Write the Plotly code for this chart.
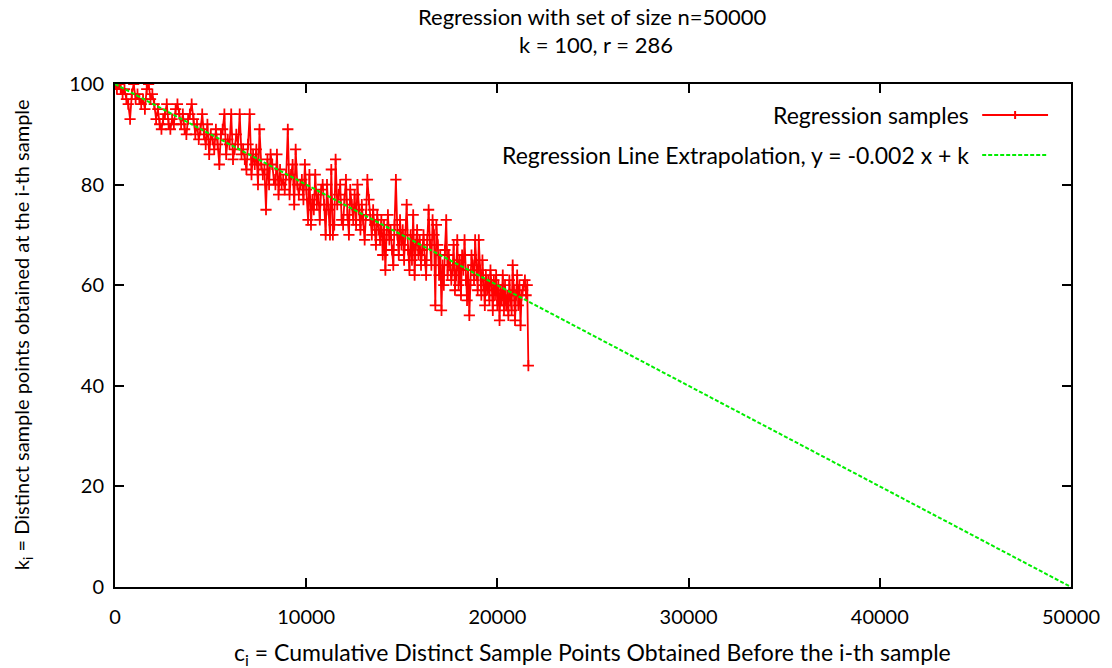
import itertools
import plotly.graph_objects as go

# k_i values (distinct sample points obtained at the i-th sample)
k_values = [
    100, 99, 100, 99, 98, 99, 97, 96, 93, 98,
    100, 97, 98, 97, 96, 97, 95, 99, 100, 97,
    98, 96, 93, 95, 92, 91, 93, 94, 96, 92,
    91, 93, 92, 95, 96, 94, 92, 94, 91, 90,
    93, 94, 96, 93, 90, 92, 89, 91, 94, 90,
    88, 92, 86, 90, 89, 87, 91, 88, 84, 90,
    91, 94, 86, 89, 88, 94, 85, 87, 90, 88,
    94, 86, 87, 85, 83, 88, 94, 82, 86, 84,
    87, 80, 91, 84, 82, 83, 75, 85, 80, 86,
    84, 81, 80, 86, 78, 83, 80, 81, 79, 82,
    91, 78, 82, 84, 76, 87, 80, 78, 80, 81,
    77, 84, 79, 73, 82, 72, 77, 75, 82, 76, 78, 73, 79, 80, 76,
    70, 80, 75, 70, 83, 70, 72, 85, 76, 78,
    80, 73, 72, 77, 81, 74, 70, 79, 76, 73,
    78, 72, 80, 75, 71, 76, 73, 69, 74, 81,
    77, 73, 70, 75, 72, 68, 74, 71, 69, 73,
    66, 72, 63, 70, 74, 69, 71, 67, 64, 72,
    81, 70, 66, 73, 68, 71, 65, 70, 76, 67,
    63, 70, 65, 74, 62, 68, 71, 66, 69, 64, 67, 70, 65, 62, 69,
    75, 68, 64, 73, 70, 56, 72, 68, 62, 66,
    55, 64, 60, 67, 73, 62, 66, 64, 61, 63,
    68, 59, 62, 69, 60, 65, 58, 66, 63, 69,
    61, 57, 63, 54, 60, 66, 64, 61, 69, 62,
    59, 69, 63, 58, 65, 60, 56, 62, 59, 61,
    57, 63, 60, 55, 61, 58, 62, 56, 60, 53,
    59, 57, 62, 55, 60, 56, 58, 54, 61, 57,
    55, 64, 59, 53, 58, 62, 56, 60, 52, 58,
    59, 60, 61, 58, 60, 44,
]
# c_i = cumulative distinct sample points obtained before the i-th sample
c_values = [0] + list(itertools.accumulate(k_values))[:-1]

# regression line extrapolation y = -0.002 x + k
line_x = [0, 50000]
line_y = [100, 0]

x_ticks = [0, 10000, 20000, 30000, 40000, 50000]
y_ticks = [0, 20, 40, 60, 80, 100]

FONT = "Lato"
L, R, T, B = 115, 39, 84, 81
W, H = 1112, 668
PW, PH = W - L - R, H - T - B

RED = "#ff0000"
GREEN = "#00ee00"


def px(xp):
    return (xp - L) / PW


def py(yp):
    return (H - B - yp) / PH


fig = go.Figure()
fig.add_trace(go.Scatter(
    x=c_values, y=k_values, mode="lines+markers",
    line=dict(color=RED, width=1.8),
    marker=dict(symbol="cross-thin", size=8, line=dict(color=RED, width=1.8)),
    name="Regression samples", showlegend=False,
))
fig.add_trace(go.Scatter(
    x=line_x, y=line_y, mode="lines",
    line=dict(color=GREEN, width=2, dash="4px,2px"),
    name="Regression Line Extrapolation", showlegend=False,
))

axis_common = dict(
    showgrid=False, zeroline=False, showline=True, linecolor="black", linewidth=2,
    mirror="ticks", ticks="inside", ticklen=9, tickwidth=2, tickcolor="black",
    tickfont=dict(family=FONT, size=20, color="black"),
)

fig.update_xaxes(range=[0, 50000], tickvals=x_ticks, ticktext=[str(v) for v in x_ticks],
                 ticklabelstandoff=11, **axis_common)
fig.update_yaxes(range=[0, 100], tickvals=y_ticks, ticktext=[str(v) for v in y_ticks],
                 ticklabelstandoff=5, **axis_common)

annotations = [
    dict(text="Regression with set of size n=50000", x=px(593), y=py(17)),
    dict(text="k = 100, r = 286", x=px(597), y=py(44)),
]
for a in annotations:
    a.update(xref="paper", yref="paper", showarrow=False, xanchor="center", yanchor="middle",
             font=dict(family=FONT, size=22, color="black"))

annotations += [
    dict(text="c<sub>i</sub> = Cumulative Distinct Sample Points Obtained Before the i-th sample",
         x=px(593), y=py(653), xref="paper", yref="paper", showarrow=False,
         xanchor="center", yanchor="middle", font=dict(family=FONT, size=23, color="black")),
    dict(text="k<sub>i</sub> = Distinct sample points obtained at the i-th sample",
         x=px(22), y=py(335), xref="paper", yref="paper", showarrow=False, textangle=-90,
         xanchor="center", yanchor="middle", font=dict(family=FONT, size=20, color="black")),
    dict(text="Regression samples", x=px(973), y=py(115), xref="paper", yref="paper",
         showarrow=False, xanchor="right", yanchor="middle",
         font=dict(family=FONT, size=23, color="black")),
    dict(text="Regression Line Extrapolation, y = -0.002 x + k", x=px(973), y=py(155),
         xref="paper", yref="paper", showarrow=False, xanchor="right", yanchor="middle",
         font=dict(family=FONT, size=23, color="black")),
]

shapes = [
    dict(type="line", xref="paper", yref="paper", x0=px(984), x1=px(1050), y0=py(115), y1=py(115),
         line=dict(color=RED, width=2)),
    dict(type="line", xref="paper", yref="paper", x0=px(1017), x1=px(1017), y0=py(111), y1=py(119),
         line=dict(color=RED, width=2)),
    dict(type="line", xref="paper", yref="paper", x0=px(984), x1=px(1050), y0=py(155), y1=py(155),
         line=dict(color=GREEN, width=2, dash="4px,2px")),
]

fig.update_layout(
    width=W, height=H, margin=dict(l=L, r=R, t=T, b=B),
    paper_bgcolor="white", plot_bgcolor="white",
    annotations=annotations, shapes=shapes, showlegend=False,
    font=dict(family=FONT, color="black"),
)

fig.write_html("out.html")
